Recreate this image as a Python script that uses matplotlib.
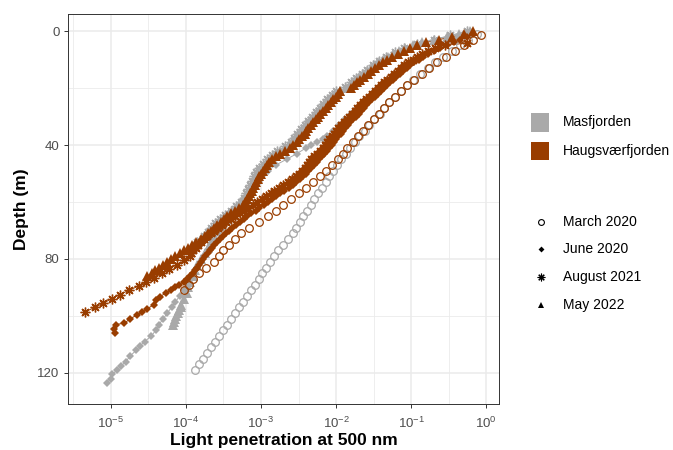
import numpy as np
import matplotlib
matplotlib.use("Agg")
import matplotlib.pyplot as plt
from matplotlib.lines import Line2D
from matplotlib.patches import Rectangle
from matplotlib.ticker import FixedLocator, NullFormatter

plt.rcParams['font.family'] = ['Liberation Sans', 'DejaVu Sans']
plt.rcParams['mathtext.fontset'] = 'custom'
plt.rcParams['mathtext.rm'] = 'Liberation Sans'
plt.rcParams['mathtext.it'] = 'Liberation Sans:italic'
plt.rcParams['mathtext.bf'] = 'Liberation Sans:bold'

# light values are stored as log10 of light penetration, depth in m
mas_mar_depth = [119, 117, 115, 113, 111, 109, 107, 105, 103, 101, 99, 97, 95, 93, 91, 89, 87, 85,
                 83, 81, 79, 77, 75, 73, 71, 69, 67, 65, 63, 61, 59, 57, 55, 53, 51, 49, 47, 45,
                 43, 41, 39, 37, 35, 33, 31, 29, 27, 25, 23, 21, 19, 17, 15, 13, 11, 9, 7, 5, 3, 1]
mas_mar_log = [-3.88, -3.83, -3.77, -3.72, -3.66, -3.61, -3.56, -3.50, -3.45, -3.40, -3.35, -3.29,
               -3.24, -3.18, -3.13, -3.08, -3.03, -2.98, -2.93, -2.88, -2.83, -2.77, -2.71, -2.64,
               -2.58, -2.53, -2.48, -2.44, -2.39, -2.34, -2.29, -2.24, -2.19, -2.14, -2.09, -2.04,
               -1.99, -1.93, -1.87, -1.81, -1.75, -1.69, -1.62, -1.56, -1.49, -1.42, -1.36, -1.29,
               -1.22, -1.14, -1.06, -0.97, -0.88, -0.78, -0.68, -0.57, -0.46, -0.35, -0.24, -0.12]

mas_jun_depth = [123.5, 122, 120.5, 119, 117.5, 116, 114, 112, 110.5, 109, 107, 105, 103, 101, 99,
                 97, 95, 93, 91, 89, 87, 85, 83, 81, 79, 77, 75, 73, 71, 69, 67, 65, 63, 61, 59,
                 57, 55, 53, 51, 49, 47, 45, 43, 41, 40, 39, 38, 37, 35, 33, 31, 29, 27, 25, 23,
                 21, 19, 17, 15, 13, 11, 9, 7, 5, 3, 1]
mas_jun_log = [-5.05, -5.00, -4.98, -4.92, -4.86, -4.80, -4.74, -4.66, -4.61, -4.55, -4.46, -4.40,
               -4.36, -4.30, -4.25, -4.19, -4.14, -4.08, -4.02, -3.97, -3.93, -3.89, -3.85, -3.80,
               -3.76, -3.71, -3.66, -3.62, -3.57, -3.50, -3.42, -3.36, -3.30, -3.24, -3.18, -3.13,
               -3.08, -3.03, -2.98, -2.91, -2.80, -2.66, -2.52, -2.40, -2.33, -2.26, -2.18, -2.12,
               -2.04, -1.96, -1.88, -1.80, -1.72, -1.64, -1.56, -1.48, -1.40, -1.32, -1.23, -1.13,
               -1.02, -0.90, -0.76, -0.58, -0.40, -0.22]

mas_aug_depth = [0, 1.5, 3, 4.5, 6, 7.5, 9, 10.5, 12, 13.5, 15, 16.5, 18, 19.5, 21, 22.5, 24, 25.5,
                 27, 28.5, 30, 31.5, 33, 34.5, 36, 37.5, 39, 40.5, 42, 43.5, 45, 46.5, 48, 49.5,
                 51, 52.5, 54, 55.5, 57, 58.5, 60, 61.5, 63, 64.5, 66, 67.5, 69, 70.5, 72, 74]
mas_aug_log = [-0.25, -0.48, -0.70, -0.92, -1.10, -1.22, -1.33, -1.43, -1.51, -1.59, -1.66, -1.73,
               -1.80, -1.88, -2.00, -2.06, -2.12, -2.17, -2.22, -2.27, -2.32, -2.37, -2.42, -2.47,
               -2.52, -2.56, -2.60, -2.68, -2.78, -2.85, -2.92, -2.97, -3.02, -3.06, -3.09, -3.12,
               -3.14, -3.17, -3.20, -3.23, -3.27, -3.33, -3.40, -3.48, -3.55, -3.61, -3.66, -3.71,
               -3.76, -3.85]

mas_may_depth = [0, 1, 2, 3, 4, 5, 6, 7, 8, 9, 10, 11, 12, 13, 14, 15, 16, 17, 18, 19, 20, 21, 22,
                 23, 24, 25, 26, 27, 28, 29, 30, 31, 32, 33, 34, 35, 36, 37, 38, 39, 40, 41, 42,
                 43, 44, 45, 46, 47, 48, 49, 50, 51, 52, 53, 54, 55, 56, 57, 58, 59, 60, 61, 62,
                 63, 64, 65, 66, 67, 68, 69, 70, 72, 74, 76, 78, 80, 82, 84, 86, 88, 90, 92, 94,
                 96, 97, 98, 99, 100, 101, 102, 103]
mas_may_log = [-0.22, -0.36, -0.52, -0.70, -0.86, -0.98, -1.08, -1.16, -1.24, -1.31, -1.38, -1.44,
               -1.49, -1.54, -1.59, -1.64, -1.69, -1.74, -1.78, -1.82, -1.87, -1.95, -2.02, -2.06,
               -2.09, -2.13, -2.16, -2.20, -2.23, -2.27, -2.30, -2.33, -2.36, -2.40, -2.43, -2.46,
               -2.49, -2.52, -2.55, -2.59, -2.63, -2.68, -2.74, -2.79, -2.84, -2.88, -2.92, -2.95,
               -2.98, -3.01, -3.03, -3.05, -3.07, -3.09, -3.11, -3.13, -3.15, -3.17, -3.20, -3.23,
               -3.26, -3.29, -3.33, -3.37, -3.42, -3.46, -3.50, -3.53, -3.56, -3.58, -3.60, -3.63,
               -3.67, -3.70, -3.74, -3.80, -3.85, -3.88, -3.91, -3.94, -3.97, -3.99, -4.02, -4.06,
               -4.07, -4.09, -4.11, -4.13, -4.14, -4.16, -4.17]

hau_mar_depth = [91, 89, 87, 85, 83, 81, 79, 77, 75, 73, 71, 69, 67, 65, 63, 61, 59, 57, 55, 53, 51,
                 49, 47, 45, 43, 41, 39, 37, 35, 33, 31, 29, 27, 25, 23, 21, 19, 17, 15, 13, 11, 9,
                 7, 5, 3, 1.4]
hau_mar_log = [-4.02, -3.96, -3.90, -3.82, -3.73, -3.63, -3.56, -3.50, -3.42, -3.35, -3.26, -3.16,
               -3.03, -2.91, -2.80, -2.70, -2.60, -2.50, -2.40, -2.31, -2.22, -2.14, -2.06, -1.98,
               -1.91, -1.85, -1.78, -1.71, -1.64, -1.57, -1.50, -1.43, -1.36, -1.29, -1.22, -1.14,
               -1.05, -0.96, -0.86, -0.76, -0.65, -0.54, -0.42, -0.30, -0.18, -0.07]

hau_jun_depth = [106, 104.5, 103, 102.5, 101, 99.6, 98.5, 97.5, 96, 94.5, 93.3, 92, 91, 90, 89, 88,
                 87, 86, 85, 84, 83, 82, 81, 80, 79, 78, 77, 76, 75, 74, 73, 72, 71, 70, 69, 68,
                 67, 66, 65, 64, 63, 62, 61, 60, 59, 58, 57, 56, 55, 54, 53, 52, 51, 50, 49, 48,
                 47, 46, 45, 44, 43, 42, 41, 40, 39, 38, 37, 36, 35, 34, 33, 32, 31, 30, 29, 28,
                 27, 26, 25, 24, 23, 22, 21, 20, 19, 18, 17, 16, 15, 14, 13, 12, 11, 10, 9, 8, 7,
                 6, 5, 4, 3, 2, 1]
hau_jun_log = [-4.95, -4.96, -4.93, -4.82, -4.74, -4.65, -4.58, -4.52, -4.42, -4.40, -4.35, -4.27,
               -4.20, -4.14, -4.09, -4.03, -3.98, -3.94, -3.90, -3.88, -3.85, -3.83, -3.80, -3.77,
               -3.74, -3.71, -3.68, -3.65, -3.62, -3.59, -3.55, -3.51, -3.47, -3.43, -3.38, -3.33,
               -3.28, -3.23, -3.18, -3.13, -3.07, -3.02, -2.96, -2.91, -2.85, -2.80, -2.74, -2.69,
               -2.63, -2.58, -2.53, -2.48, -2.44, -2.40, -2.37, -2.33, -2.30, -2.26, -2.23, -2.19,
               -2.16, -2.12, -2.09, -2.06, -2.03, -2.00, -1.97, -1.94, -1.91, -1.88, -1.84, -1.81,
               -1.77, -1.74, -1.70, -1.67, -1.63, -1.60, -1.56, -1.52, -1.48, -1.44, -1.40, -1.36,
               -1.32, -1.28, -1.24, -1.20, -1.15, -1.11, -1.06, -1.01, -0.96, -0.90, -0.84, -0.77,
               -0.70, -0.61, -0.52, -0.43, -0.35, -0.26, -0.18]

hau_aug_depth = [4.2, 5, 6, 7, 8, 9, 10, 11, 12, 13, 14, 15, 16, 17, 18, 19, 20, 21, 22, 23, 24,
                 25, 26, 27, 28, 29, 30, 31, 32, 33, 34, 35, 36, 37, 38, 39, 40, 41, 42, 43, 44,
                 45, 46, 47, 48, 49, 50, 51, 52, 53, 54, 55, 56, 57, 58, 59, 60, 61, 62, 63, 64,
                 65, 66, 67, 68, 69, 70, 71, 72, 73, 74, 75, 76, 77, 78, 79, 80.5, 82, 83.5, 85,
                 86.5, 88, 89.5, 91, 92.5, 94, 95.5, 97, 98.6]
hau_aug_log = [-0.25, -0.55, -0.68, -0.78, -0.85, -0.92, -0.98, -1.04, -1.09, -1.14, -1.18, -1.23,
               -1.27, -1.32, -1.36, -1.40, -1.44, -1.48, -1.52, -1.56, -1.60, -1.64, -1.68, -1.72,
               -1.75, -1.79, -1.83, -1.86, -1.90, -1.93, -1.97, -2.00, -2.03, -2.06, -2.09, -2.12,
               -2.15, -2.18, -2.21, -2.25, -2.29, -2.33, -2.36, -2.39, -2.42, -2.46, -2.50, -2.54,
               -2.59, -2.64, -2.70, -2.76, -2.82, -2.87, -2.93, -2.99, -3.05, -3.11, -3.17, -3.22,
               -3.28, -3.34, -3.40, -3.46, -3.52, -3.57, -3.62, -3.67, -3.72, -3.76, -3.80, -3.84,
               -3.87, -3.90, -3.93, -3.95, -4.02, -4.12, -4.22, -4.32, -4.42, -4.53, -4.63, -4.76,
               -4.88, -4.99, -5.10, -5.21, -5.35]

hau_may_depth = [0, 1, 2, 3, 4, 5, 6, 7, 8, 9, 10, 11, 12, 13, 14, 15, 16, 17, 18, 19, 20, 21, 22,
                 23, 24, 25, 26, 27, 28, 29, 30, 31, 32, 33, 34, 35, 36, 37, 38, 39, 40, 41, 42,
                 43, 44, 45, 46, 47, 48, 49, 50, 51, 52, 53, 54, 55, 56, 57, 58, 59, 60, 61, 62,
                 63, 64, 65, 66, 67, 68, 69, 70, 71, 72, 73, 74, 75, 76, 77, 78, 79, 80, 81, 82,
                 83, 84, 85, 86]
hau_may_log = [-0.18, -0.30, -0.45, -0.63, -0.80, -0.92, -1.02, -1.10, -1.18, -1.25, -1.32, -1.38,
               -1.43, -1.48, -1.53, -1.58, -1.63, -1.68, -1.72, -1.76, -1.80, -1.95, -1.97, -2.00,
               -2.04, -2.07, -2.11, -2.14, -2.18, -2.21, -2.24, -2.27, -2.31, -2.34, -2.37, -2.40,
               -2.42, -2.45, -2.49, -2.52, -2.57, -2.62, -2.68, -2.74, -2.80, -2.85, -2.89, -2.92,
               -2.95, -2.97, -3.00, -3.02, -3.04, -3.06, -3.08, -3.10, -3.12, -3.14, -3.16, -3.18,
               -3.21, -3.24, -3.29, -3.35, -3.40, -3.45, -3.49, -3.53, -3.58, -3.62, -3.66, -3.70,
               -3.75, -3.80, -3.86, -3.92, -3.97, -4.02, -4.08, -4.14, -4.20, -4.25, -4.31, -4.36,
               -4.41, -4.45, -4.52]

fjords = ["Masfjorden", "Haugsværfjorden"]
dates = ["March 2020", "June 2020", "August 2021", "May 2022"]
fjord_colours = {"Masfjorden": "#A9A9A9", "Haugsværfjorden": "#993D00"}

series = [
    ("Masfjorden", "March 2020", mas_mar_depth, mas_mar_log),
    ("Masfjorden", "June 2020", mas_jun_depth, mas_jun_log),
    ("Masfjorden", "August 2021", mas_aug_depth, mas_aug_log),
    ("Masfjorden", "May 2022", mas_may_depth, mas_may_log),
    ("Haugsværfjorden", "March 2020", hau_mar_depth, hau_mar_log),
    ("Haugsværfjorden", "June 2020", hau_jun_depth, hau_jun_log),
    ("Haugsværfjorden", "August 2021", hau_aug_depth, hau_aug_log),
    ("Haugsværfjorden", "May 2022", hau_may_depth, hau_may_log),
]

# marker style per date (ggplot shapes 1, 18, 8, 17)
shape_style = {
    "March 2020": dict(marker="o", ms=5.5, mfc="none", mew=0.9, line=False),
    "June 2020": dict(marker="D", ms=3.6, mew=0, line=True),
    "August 2021": dict(marker=(8, 2, 0), ms=7, mew=1.0, line=True),
    "May 2022": dict(marker="^", ms=6.5, mew=0, line=True),
}

W, H = 673, 450
fig = plt.figure(figsize=(W / 100, H / 100), dpi=100)
ax = fig.add_axes([68 / W, 1 - 404 / H, (499 - 68) / W, (404 - 14) / H])

for fjord, date, depth, loglight in series:
    col = fjord_colours[fjord]
    st = shape_style[date]
    light = 10 ** np.array(loglight)
    if st["line"]:
        ax.plot(light, depth, color=col, lw=0.7, zorder=2)
    mfc = st.get("mfc", col)
    ax.plot(light, depth, linestyle="none", marker=st["marker"], ms=st["ms"],
            mfc=mfc, mec=col, mew=st["mew"], zorder=3)

ax.set_xscale("log")
ax.set_xlim(10 ** -5.57, 10 ** 0.17)
ax.set_ylim(130.9, -6)

xt = [1e-5, 1e-4, 1e-3, 1e-2, 1e-1, 1]
ax.xaxis.set_major_locator(FixedLocator(xt))
ax.set_xticklabels([r"$10^{-5}$", r"$10^{-4}$", r"$10^{-3}$", r"$10^{-2}$", r"$10^{-1}$", r"$10^{0}$"])
ax.xaxis.set_minor_locator(FixedLocator([10 ** (e + 0.5) for e in range(-6, 0)]))
ax.xaxis.set_minor_formatter(NullFormatter())
ax.set_yticks([0, 40, 80, 120])
ax.yaxis.set_minor_locator(FixedLocator([20, 60, 100]))

ax.grid(which="major", color="#EBEBEB", lw=1.1)
ax.grid(which="minor", color="#EBEBEB", lw=0.6)
ax.set_axisbelow(True)
ax.tick_params(which="minor", length=0)
ax.tick_params(which="major", length=3.2, width=0.7, color="#333333",
               labelcolor="#4D4D4D", labelsize=9.5, pad=3)
ax.tick_params(axis="x", which="major", pad=5)
for sp in ax.spines.values():
    sp.set_color("#333333")
    sp.set_linewidth(0.7)

ax.set_xlabel("Light penetration at 500 nm", fontsize=12.5, fontweight="bold", labelpad=2)
ax.set_ylabel("Depth (m)", fontsize=12.5, fontweight="bold", labelpad=6)

# legends drawn in figure pixel coordinates
def fx(px):
    return px / W

def fy(py):
    return 1 - py / H

for i, fj in enumerate(fjords):
    cy = 122.5 + i * 28.5
    fig.add_artist(Rectangle((fx(531), fy(cy + 9)), 18 / W, 18 / H,
                             transform=fig.transFigure, color=fjord_colours[fj], lw=0))
    fig.text(fx(563), fy(cy), fj, fontsize=10, va="center", ha="left")

legend_ms = {"March 2020": 4.2, "June 2020": 3.0, "August 2021": 5.5, "May 2022": 4.5}
for i, d in enumerate(dates):
    cy = 222 + i * 27.5
    st = shape_style[d]
    fig.add_artist(Line2D([fx(541)], [fy(cy)], transform=fig.transFigure, linestyle="none",
                          marker=st["marker"], ms=legend_ms[d], mfc=st.get("mfc", "black"),
                          mec="black", mew=0.8 if st["mew"] else 0))
    fig.text(fx(563), fy(cy), d, fontsize=10, va="center", ha="left")

fig.savefig("out.png", dpi=100)
